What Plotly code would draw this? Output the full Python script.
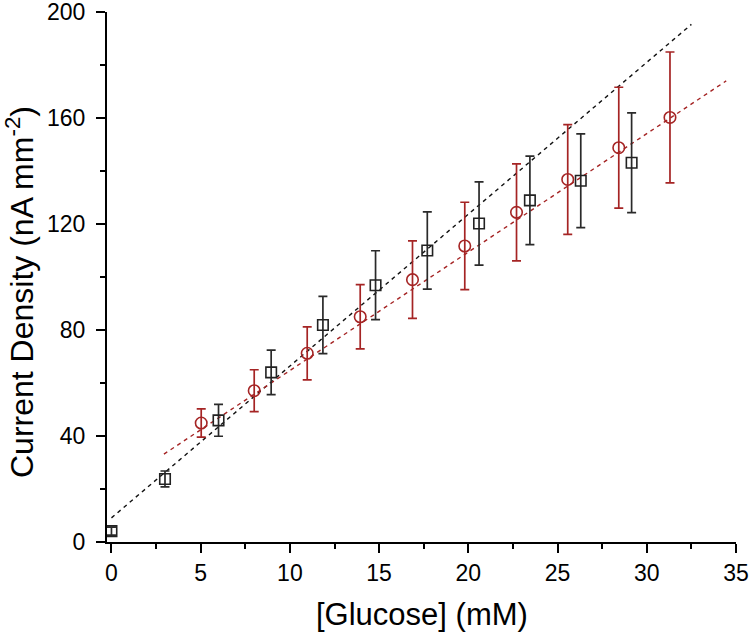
import plotly.graph_objects as go

# Black squares
sq_x = [0, 3, 6, 8.95, 11.85, 14.8, 17.7, 20.6, 23.45, 26.3, 29.15]
sq_y = [4.1, 23.8, 45.9, 64.0, 81.9, 96.9, 110.0, 120.2, 128.9, 136.3, 143.1]
sq_err = [1.5, 3.0, 6.0, 8.4, 10.8, 13.0, 14.6, 15.7, 16.7, 17.7, 18.8]

# Red circles
ci_x = [5.03, 8.0, 10.97, 13.94, 16.87, 19.8, 22.7, 25.57, 28.43, 31.3]
ci_y = [44.9, 57.1, 71.2, 85.0, 99.0, 111.7, 124.4, 136.8, 148.8, 160.2]
ci_err = [5.3, 7.9, 10.0, 12.1, 14.6, 16.5, 18.3, 20.7, 22.8, 24.7]

# Linear fits: intercept, slope, x-extent
black_fit = {"b": 9.1, "m": 5.73, "x0": 0.0, "x1": 32.5}
red_fit = {"b": 20.0, "m": 4.47, "x0": 2.94, "x1": 34.45}

x_ticks = [0, 5, 10, 15, 20, 25, 30, 35]
y_ticks = [0, 40, 80, 120, 160, 200]
x_title = "[Glucose] (mM)"
y_title = "Current Density (nA mm<sup>-2</sup>)"

BLACK = "#222222"
RED = "#a52424"

fig = go.Figure()

def fit_trace(fit, color):
    xs = [fit["x0"], fit["x1"]]
    ys = [fit["b"] + fit["m"] * x for x in xs]
    return go.Scatter(x=xs, y=ys, mode="lines",
                      line=dict(color=color, width=1.4, dash="4px,4px"),
                      showlegend=False, hoverinfo="skip")

fig.add_trace(fit_trace(black_fit, "#111111"))
fig.add_trace(fit_trace(red_fit, RED))

fig.add_trace(go.Scatter(
    x=sq_x, y=sq_y, mode="markers",
    marker=dict(symbol="square-open", size=10.5, color=BLACK, line=dict(width=1.6, color=BLACK)),
    error_y=dict(type="data", array=sq_err, visible=True, color="#2a2a2a", thickness=1.7, width=4.5),
    showlegend=False))

fig.add_trace(go.Scatter(
    x=ci_x, y=ci_y, mode="markers",
    marker=dict(symbol="circle-open", size=11.5, color=RED, line=dict(width=1.6, color=RED)),
    error_y=dict(type="data", array=ci_err, visible=True, color=RED, thickness=1.7, width=4.5),
    showlegend=False))

font_family = "Liberation Sans, Arial, sans-serif"

fig.update_layout(
    width=750, height=636,
    margin=dict(l=107, r=14, t=12, b=94),
    paper_bgcolor="white", plot_bgcolor="white",
    font=dict(family=font_family, color="black"),
    xaxis=dict(
        range=[-0.25, 35], tickmode="array", tickvals=x_ticks,
        showline=True, linecolor="black", linewidth=2, mirror=False,
        ticks="outside", ticklen=9, tickwidth=2, tickcolor="black",
        minor=dict(dtick=2.5, ticks="outside", ticklen=5, tickwidth=2, tickcolor="black"),
        showgrid=False, zeroline=False, automargin=False,
        tickfont=dict(size=23, family=font_family),
        ticklabeloverflow="allow",
    ),
    yaxis=dict(
        range=[0, 200], tickmode="array", tickvals=y_ticks,
        showline=True, linecolor="black", linewidth=2, mirror=False,
        ticks="outside", ticklen=9, tickwidth=2, tickcolor="black",
        minor=dict(dtick=20, ticks="outside", ticklen=5, tickwidth=2, tickcolor="black"),
        showgrid=False, zeroline=False, automargin=False,
        tickfont=dict(size=23, family=font_family),
        ticklabelstandoff=6, ticklabeloverflow="allow",
    ),
    annotations=[
        dict(text=x_title, xref="paper", yref="paper", x=0.5, y=0,
             xanchor="center", yanchor="middle", yshift=-72, showarrow=False,
             font=dict(size=31, family=font_family, color="black")),
        dict(text=y_title, xref="paper", yref="paper", x=0, y=0.5,
             xanchor="center", yanchor="middle", xshift=-87, yshift=-15,
             textangle=-90, showarrow=False,
             font=dict(size=32, family=font_family, color="black")),
    ],
)

fig.write_html("out.html", config={"displayModeBar": False},
               post_script="document.body.style.margin='0';")
